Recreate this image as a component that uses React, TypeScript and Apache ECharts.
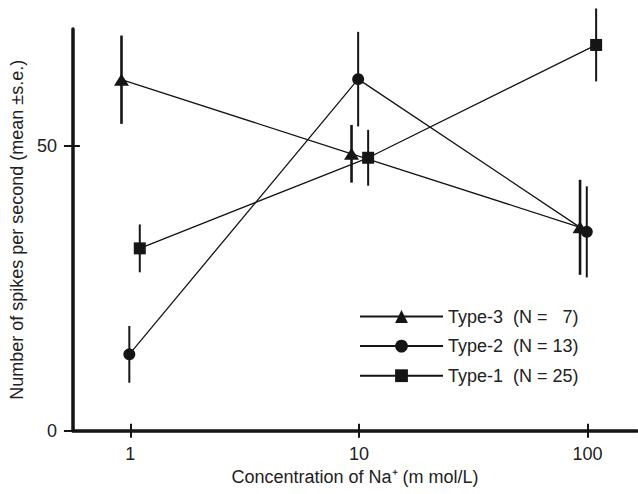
import React, { useEffect, useRef } from 'react';
import * as echarts from 'echarts';

// Concentrations (tick positions) and their labels
const concentrations = [1, 10, 100];
const tickLabels = ['1', '10', '100'];
const yTicks = [0, 50];

const seriesNames = [
  'Type-3\u00a0\u00a0(N =\u00a0\u00a0\u00a07)',
  'Type-2\u00a0\u00a0(N = 13)',
  'Type-1\u00a0\u00a0(N = 25)',
];

// Plotted x positions (slightly dodged around 1, 10, 100)
const type3X = [0.915, 9.28, 92.7];
const type3Mean = [61.6, 48.6, 35.7];
const type3SE = [7.75, 5.06, 8.34];

const type2X = [0.99, 9.92, 99.2];
const type2Mean = [13.4, 61.7, 34.9];
const type2SE = [4.98, 8.3, 8.0];

const type1X = [1.1, 10.97, 109];
const type1Mean = [32.0, 47.9, 67.7];
const type1SE = [4.2, 4.9, 6.4];

const X_MIN = 0.561;
const X_MAX = 164.5;
const Y_MAX = 70.5;

const INK = '#151515';
const TEXT = '#222';
const FONT = '"Liberation Sans", Arial, Helvetica, sans-serif';

const lg = (v: number) => Math.log10(v);

function lineSeries(name: string, xs: number[], ys: number[], symbol: string, size: any) {
  return {
    type: 'line',
    name,
    data: xs.map((x, i) => [lg(x), ys[i]]),
    symbol,
    symbolSize: size,
    itemStyle: { color: INK },
    lineStyle: { color: INK, width: 1.3 },
    z: 3,
  };
}

function errSeries(xs: number[], ys: number[], se: number[], w: number) {
  return {
    type: 'custom',
    name: 'err',
    data: xs.map((x, i) => [lg(x), ys[i] - se[i], ys[i] + se[i]]),
    encode: { x: 0, y: [1, 2] },
    renderItem: (_p: any, api: any) => {
      const a = api.coord([api.value(0), api.value(1)]);
      const b = api.coord([api.value(0), api.value(2)]);
      return {
        type: 'line',
        shape: { x1: a[0], y1: a[1], x2: b[0], y2: b[1] },
        style: { stroke: INK, lineWidth: w },
      };
    },
    z: 2,
  };
}

export default function App() {
  const ref = useRef<HTMLDivElement>(null);
  useEffect(() => {
    if (!ref.current) return;
    const chart = echarts.init(ref.current, undefined, { renderer: 'svg' });
    const xCustom = concentrations.map(lg);
    const xFmt = (v: number) => {
      const i = concentrations.findIndex((c) => Math.abs(lg(c) - v) < 1e-6);
      return i >= 0 ? tickLabels[i] : '';
    };
    const baseX = {
      type: 'value',
      min: lg(X_MIN),
      max: lg(X_MAX),
      position: 'bottom',
      offset: 0,
      splitLine: { show: false },
    };
    const baseY = {
      type: 'value',
      min: 0,
      max: Y_MAX,
      position: 'left',
      offset: 0,
      splitLine: { show: false },
    };
    chart.setOption({
      animation: false,
      textStyle: { fontFamily: FONT },
      grid: { left: 72, right: 1, top: 29, bottom: 63.3 },
      legend: {
        data: seriesNames,
        orient: 'vertical',
        left: 359,
        top: 307.5,
        padding: 0,
        itemWidth: 83,
        itemHeight: 16,
        itemGap: 11.6,
        lineStyle: { width: 2, color: INK },
        textStyle: { fontSize: 18, color: TEXT, fontFamily: FONT, lineHeight: 16 },
        selectedMode: false,
      },
      xAxis: [
        {
          ...baseX,
          name: 'Concentration of Na\u207a (m mol/L)',
          nameLocation: 'middle',
          nameGap: 33,
          nameTextStyle: { fontSize: 18, color: TEXT, fontFamily: FONT },
          axisLine: { show: true, onZero: false, lineStyle: { color: INK, width: 3.5 } },
          axisTick: { show: true, inside: false, length: 7, customValues: xCustom, lineStyle: { color: INK, width: 2 } },
          axisLabel: { show: true, customValues: xCustom, formatter: xFmt, fontSize: 18, color: TEXT, margin: 14, fontFamily: FONT },
        },
        {
          ...baseX,
          axisLine: { show: false, onZero: false },
          axisTick: { show: true, inside: true, length: 7, customValues: xCustom, lineStyle: { color: INK, width: 2 } },
          axisLabel: { show: false },
        },
      ],
      yAxis: [
        {
          ...baseY,
          name: 'Number of spikes per second (mean \u00b1s.e.)',
          nameLocation: 'middle',
          nameGap: 41,
          nameRotate: 90,
          nameTextStyle: { fontSize: 18, color: TEXT, fontFamily: FONT },
          axisLine: { show: true, onZero: false, lineStyle: { color: INK, width: 3.5 } },
          axisTick: { show: true, inside: false, length: 9, customValues: yTicks, lineStyle: { color: INK, width: 2 } },
          axisLabel: { show: true, customValues: yTicks, fontSize: 18, color: TEXT, margin: 16, fontFamily: FONT },
        },
        {
          ...baseY,
          axisLine: { show: false, onZero: false },
          axisTick: { show: true, inside: true, length: 7, customValues: yTicks, lineStyle: { color: INK, width: 2 } },
          axisLabel: { show: false },
        },
      ],
      series: [
        errSeries(type3X, type3Mean, type3SE, 2.6),
        errSeries(type2X, type2Mean, type2SE, 2),
        errSeries(type1X, type1Mean, type1SE, 2),
        lineSeries(seriesNames[0], type3X, type3Mean, 'triangle', [15, 12]),
        lineSeries(seriesNames[1], type2X, type2Mean, 'circle', 12),
        lineSeries(seriesNames[2], type1X, type1Mean, 'rect', 12),
      ],
    });
    return () => chart.dispose();
  }, []);
  return (
    <div
      ref={ref}
      style={{ position: 'fixed', left: 0, top: 0, width: 638, height: 494, background: '#fff' }}
    />
  );
}
